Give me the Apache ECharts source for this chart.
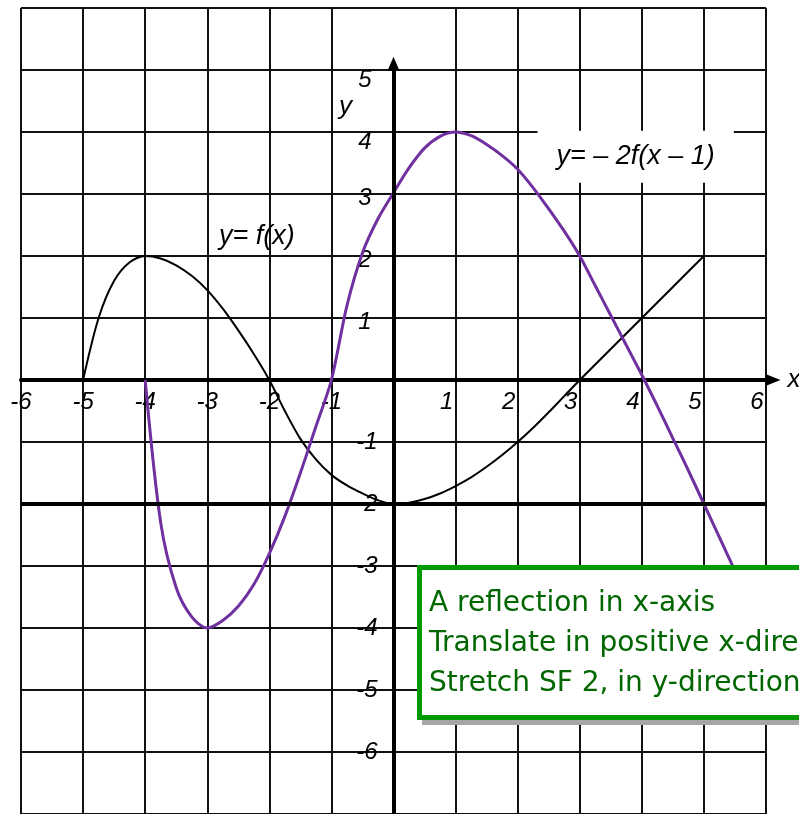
<!DOCTYPE html>
<html>
<head>
<meta charset="utf-8">
<script src="https://cdn.jsdelivr.net/npm/echarts@6/dist/echarts.min.js"></script>
<style>
  html, body { margin: 0; padding: 0; background: #fff; }
  #main { width: 799px; height: 814px; }
</style>
</head>
<body>
<div id="main"></div>
<script>
// y = f(x)
var fX = [-5, -4.75, -4.5, -4.25, -4, -3.75, -3.5, -3.25, -3, -2.75, -2.5, -2.25, -2, -1.75, -1.5, -1.25, -1, -0.75, -0.5, -0.25,
          0, 0.25, 0.5, 0.75, 1, 1.25, 1.5, 1.75, 2, 2.25, 2.5, 2.75, 3, 3.5, 4, 4.5, 5];
var fY = [0, 1.0, 1.6, 1.9, 2, 1.96, 1.85, 1.68, 1.45, 1.15, 0.8, 0.42, 0, -0.5, -0.95, -1.28, -1.53, -1.7, -1.83, -1.94,
          -2, -1.98, -1.92, -1.83, -1.71, -1.57, -1.4, -1.21, -1, -0.77, -0.52, -0.26, 0, 0.5, 1, 1.5, 2];

// y = -2f(x - 1)
var gX = [-4, -3.75, -3.5, -3.25, -3, -2.75, -2.5, -2.25, -2, -1.75, -1.5, -1.25, -1, -0.75, -0.5, -0.25,
          0, 0.25, 0.5, 0.75, 1, 1.25, 1.5, 1.75, 2, 2.25, 2.5, 2.75, 3, 3.25, 3.5, 3.75, 4, 4.25, 4.5, 4.75, 5, 5.25, 5.5, 6];
var gY = [0, -2.3, -3.35, -3.82, -4, -3.88, -3.65, -3.3, -2.8, -2.2, -1.5, -0.75, 0, 1.2, 2.05, 2.6,
          3.02, 3.42, 3.74, 3.93, 4, 3.94, 3.8, 3.62, 3.4, 3.1, 2.76, 2.4, 2, 1.52, 1.04, 0.56, 0.08, -0.42, -0.94, -1.46, -2, -2.54, -3.08, -4.15];

var xMin = -6, xMax = 6;
var yMin = -7, yMax = 6;

var boxLines = [
    "A reflection in x-axis",
    "Translate in positive x-direction",
    "Stretch SF 2, in y-direction"
];

function pairs(xs, ys) {
    return xs.map(function (x, i) { return [x, ys[i]]; });
}

var chart = echarts.init(document.getElementById("main"));

// grid box in px, axes sit on the zero lines inside it
var G = { left: 21, right: 33, top: 8, bottom: 0 };
var plotW = 799 - G.left - G.right, plotH = 814 - G.top - G.bottom;
var xZeroOffset = -plotH * (0 - yMin) / (yMax - yMin);   // move bottom axis up to y = 0
var yZeroOffset = -plotW * (0 - xMin) / (xMax - xMin);   // move left axis right to x = 0

// every vertical grid line is black except x = 0, the y axis is drawn separately
var vColors = [];
for (var v = xMin; v <= xMax; v++) vColors.push(v === 0 ? "rgba(0,0,0,0)" : "#111");

var tickFont = { fontFamily: "Liberation Sans", fontStyle: "italic", fontSize: 24, color: "#000" };

var option = {
    animation: false,
    backgroundColor: "#fff",
    grid: { left: G.left, right: G.right, top: G.top, bottom: G.bottom, containLabel: false, outerBoundsMode: "none" },
    xAxis: {
        type: "value",
        position: "bottom",
        offset: xZeroOffset,
        min: xMin, max: xMax, interval: 1,
        name: "x",
        nameLocation: "end",
        nameGap: 18,
        nameTextStyle: { fontFamily: "Liberation Sans", fontStyle: "italic", fontSize: 26, color: "#000" },
        axisLine: {
            onZero: false,
            symbol: ["none", "triangle"],
            symbolSize: [12, 15],
            symbolOffset: [0, 7],
            lineStyle: { color: "#000", width: 4 }
        },
        axisTick: { show: false },
        splitLine: { show: true, lineStyle: { color: vColors, width: 2 } },
        axisLabel: {
            margin: 10,
            formatter: function (val) {
                if (val === 0) return "";
                return val < 0 ? "{n|" + val + "}" : "{p|" + val + "}";
            },
            rich: {
                n: Object.assign({ padding: [0, 0, 0, 0], lineHeight: 24 }, tickFont),
                p: Object.assign({ padding: [0, 18, 0, 0], lineHeight: 24 }, tickFont)
            }
        }
    },
    yAxis: {
        type: "value",
        position: "left",
        offset: yZeroOffset,
        min: yMin, max: yMax, interval: 1,
        name: "y",
        nameLocation: "end",
        nameGap: -112,
        nameTextStyle: { fontFamily: "Liberation Sans", fontStyle: "italic", fontSize: 26, color: "#000", padding: [0, 96, 0, 0] },
        axisLine: { show: false, onZero: false },
        axisTick: { show: false },
        splitLine: { show: true, lineStyle: { color: "#111", width: 2 } },
        axisLabel: {
            margin: 16,
            formatter: function (val) {
                if (val === 0 || val === yMax || val === yMin) return "";
                if (val >= 4) return "{q|" + val + "}";
                return val > 0 ? "{p|" + val + "}" : "{n|" + val + "}";
            },
            rich: {
                n: Object.assign({ padding: [0, 0, 0, 0] }, tickFont),
                p: Object.assign({ padding: [8, 6, 0, 0] }, tickFont),
                q: Object.assign({ padding: [20, 6, 0, 0] }, tickFont)
            }
        }
    },
    series: [
        {
            name: "y= f(x)",
            type: "line",
            data: pairs(fX, fY),
            smooth: 0.3,
            showSymbol: false,
            lineStyle: { color: "#000", width: 2 },
            z: 3,
            markLine: {
                silent: true,
                symbol: ["none", "none"],
                label: { show: false },
                lineStyle: { color: "#000", width: 4, type: "solid" },
                data: [
                    { yAxis: -2 },
                    [
                        { coord: [0, yMin], symbol: "none" },
                        { coord: [0, 5.1], symbol: "triangle", symbolSize: [12, 14] }
                    ]
                ]
            },
            markPoint: {
                silent: true,
                symbol: "circle",
                symbolSize: 0,
                label: {
                    show: true,
                    formatter: "y= f(x)",
                    fontFamily: "Liberation Sans", fontStyle: "italic", fontSize: 27, color: "#000"
                },
                data: [{ coord: [-2.2, 2.31] }]
            }
        },
        {
            name: "y= – 2f(x – 1)",
            type: "line",
            data: pairs(gX, gY),
            smooth: 0.3,
            showSymbol: false,
            lineStyle: { color: "#7030A0", width: 3 },
            z: 4,
            markPoint: {
                silent: true,
                symbol: "circle",
                symbolSize: 0,
                z: 10,
                label: {
                    show: true,
                    formatter: "y= – 2f(x – 1)",
                    fontFamily: "Liberation Sans", fontStyle: "italic", fontSize: 27, color: "#000",
                    backgroundColor: "#fff",
                    padding: [13, 19, 12, 19]
                },
                data: [{ coord: [3.9, 3.6] }]
            }
        }
    ],
    graphic: [
        {
            type: "group",
            left: 417,
            top: 565,
            zlevel: 1,
            children: [
                {
                    type: "rect",
                    z: 100,
                    shape: { x: 5, y: 8, width: 405, height: 152 },
                    style: { fill: "#a6a6a6" }
                },
                {
                    type: "rect",
                    z: 101,
                    shape: { x: 2.5, y: 2.5, width: 400, height: 150 },
                    style: { fill: "#fff", stroke: "#009900", lineWidth: 5 }
                },
                {
                    type: "text",
                    z: 102,
                    x: 12,
                    y: 19,
                    style: {
                        text: boxLines.join("\n"),
                        fontFamily: "DejaVu Sans",
                        fontSize: 28,
                        lineHeight: 40,
                        fill: "#006600"
                    }
                }
            ]
        }
    ]
};

chart.setOption(option);
</script>
</body>
</html>
